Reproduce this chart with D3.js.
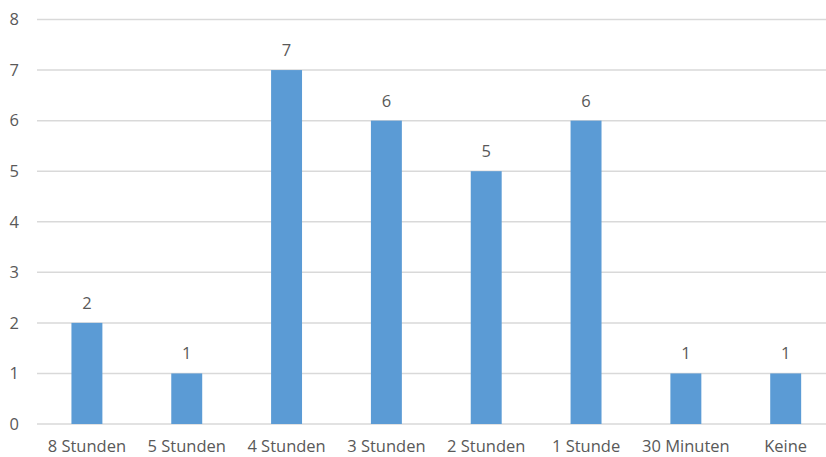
<!DOCTYPE html>
<meta charset="utf-8">
<script src="https://cdn.jsdelivr.net/npm/d3@7"></script>
<style>
body { margin: 0; background: #fff; }
text { font-family: "Open Sans", sans-serif; font-size: 16.5px; fill: #595959; }
.grid line { stroke: #d9d9d9; stroke-width: 1.5px; }
</style>
<body>
<script>
var categories = ["8 Stunden", "5 Stunden", "4 Stunden", "3 Stunden", "2 Stunden", "1 Stunde", "30 Minuten", "Keine"];
var values = [2, 1, 7, 6, 5, 6, 1, 1];
var yTicks = [0, 1, 2, 3, 4, 5, 6, 7, 8];

var width = 826, height = 457;

var svg = d3.select("body").append("svg")
    .attr("width", width)
    .attr("height", height);

var x = d3.scaleBand()
    .domain(categories)
    .range([37, 835.6])
    .paddingInner(0.69)
    .paddingOuter(0.345);

var y = d3.scaleLinear()
    .domain([0, 8])
    .range([424, 19.5]);

// gridlines
svg.append("g")
    .attr("class", "grid")
    .selectAll("line")
    .data(yTicks)
    .enter()
    .append("line")
    .attr("x1", 37)
    .attr("x2", width)
    .attr("y1", function(d) { return y(d); })
    .attr("y2", function(d) { return y(d); });

// y labels
svg.append("g")
    .selectAll("text")
    .data(yTicks)
    .enter()
    .append("text")
    .attr("x", 19)
    .attr("y", function(d) { return y(d); })
    .attr("dy", "0.35em")
    .style("text-anchor", "end")
    .text(function(d) { return d; });

// bars
svg.append("g")
    .selectAll("rect")
    .data(values)
    .enter()
    .append("rect")
    .attr("x", function(d, i) { return x(categories[i]); })
    .attr("width", x.bandwidth())
    .attr("y", function(d) { return y(d); })
    .attr("height", function(d) { return y(0) - y(d); })
    .style("fill", "#5b9bd5");

// value labels
svg.append("g")
    .selectAll("text")
    .data(values)
    .enter()
    .append("text")
    .attr("x", function(d, i) { return x(categories[i]) + x.bandwidth() / 2; })
    .attr("y", function(d) { return y(d) - 14; })
    .style("text-anchor", "middle")
    .text(function(d) { return d; });

// category labels
svg.append("g")
    .selectAll("text")
    .data(categories)
    .enter()
    .append("text")
    .attr("x", function(d) { return x(d) + x.bandwidth() / 2; })
    .attr("y", 452)
    .style("text-anchor", "middle")
    .text(function(d) { return d; });
</script>
</body>
